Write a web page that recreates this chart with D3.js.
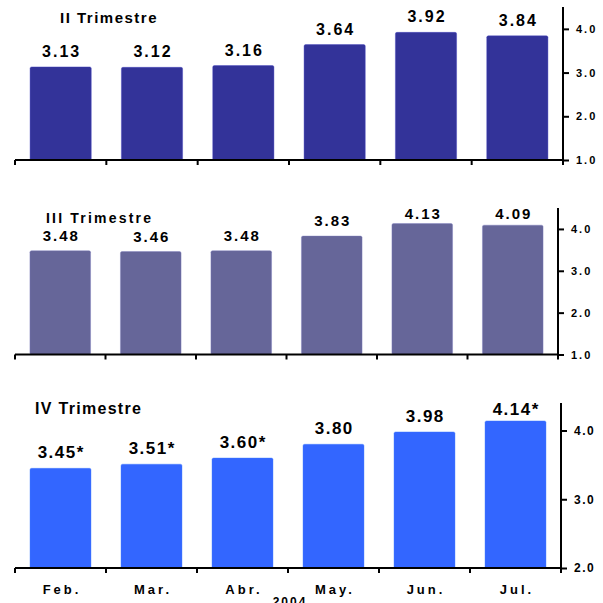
<!DOCTYPE html>
<html>
<head>
<meta charset="utf-8">
<script src="https://cdn.jsdelivr.net/npm/d3@7"></script>
<style>
  html, body { margin: 0; padding: 0; background: #fff; }
  svg { display: block; font-family: "Liberation Sans", Arial, sans-serif; font-weight: bold; }
</style>
</head>
<body>
<svg id="chart" width="603" height="603"></svg>
<script>
// ---- data ----
const months = ["Feb.", "Mar.", "Abr.", "May.", "Jun.", "Jul."];
const titles = ["II Trimestre", "III Trimestre", "IV Trimestre"];
const q2Values = [3.13, 3.12, 3.16, 3.64, 3.92, 3.84];
const q3Values = [3.48, 3.46, 3.48, 3.83, 4.13, 4.09];
const q4Values = [3.45, 3.51, 3.60, 3.80, 3.98, 4.14];
const q2Labels = ["3.13", "3.12", "3.16", "3.64", "3.92", "3.84"];
const q3Labels = ["3.48", "3.46", "3.48", "3.83", "4.13", "4.09"];
const q4Labels = ["3.45*", "3.51*", "3.60*", "3.80", "3.98", "4.14*"];
const q2Ticks = [1, 2, 3, 4];
const q3Ticks = [1, 2, 3, 4];
const q4Ticks = [2, 3, 4];
const yearLabel = "2004";

// ---- layout / style per panel ----
const panels = [
  { values: q2Values, labels: q2Labels, ticks: q2Ticks, title: titles[0], domain: [1, 4.5],
    x0: 15, x1: 563, top: 7, base: 160, color: "#333399",
    titleX: 60, titleY: 23, titleSize: 15, titleLS: 1.5,
    valSize: 16, valLS: 2, capH: 12, tickSize: 11, tickLS: 2 },
  { values: q3Values, labels: q3Labels, ticks: q3Ticks, title: titles[1], domain: [1, 4.5],
    x0: 15, x1: 558, top: 208, base: 354.5, color: "#666699",
    titleX: 46, titleY: 223, titleSize: 14, titleLS: 2.2,
    valSize: 15, valLS: 2, capH: 11, tickSize: 11, tickLS: 2 },
  { values: q4Values, labels: q4Labels, ticks: q4Ticks, title: titles[2], domain: [2, 4.4],
    x0: 15, x1: 561, top: 403, base: 568, color: "#3366FF",
    titleX: 35, titleY: 414, titleSize: 16, titleLS: 1.3,
    valSize: 17, valLS: 1.5, capH: 12, tickSize: 12, tickLS: 1.5 }
];

const svg = d3.select("#chart");

panels.forEach((p, pi) => {
  const g = svg.append("g");
  const x = d3.scaleBand().domain(months).range([p.x0, p.x1])
    .paddingInner(0.33).paddingOuter(0.165);
  const y = d3.scaleLinear().domain(p.domain).range([p.base, p.top]);

  // bars
  g.selectAll("rect.bar").data(p.values).join("rect")
    .attr("class", "bar")
    .attr("x", (d, i) => x(months[i]))
    .attr("width", x.bandwidth())
    .attr("y", d => y(d))
    .attr("height", d => y(p.domain[0]) - y(d))
    .attr("rx", 1.5)
    .attr("fill", p.color)
    .attr("stroke", d3.color(p.color).brighter(0.6))
    .attr("stroke-opacity", 0.5)
    .attr("stroke-width", 0.8);

  // value labels (kept inside plot top)
  g.selectAll("text.val").data(p.values).join("text")
    .attr("class", "val")
    .attr("x", (d, i) => x(months[i]) + x.bandwidth() / 2 + p.valLS / 2)
    .attr("y", d => Math.max(y(d) - 10, p.top + p.capH))
    .attr("text-anchor", "middle")
    .attr("font-size", p.valSize)
    .attr("letter-spacing", p.valLS)
    .attr("fill", "#000")
    .text((d, i) => p.labels[i]);

  // title
  g.append("text")
    .attr("x", p.titleX).attr("y", p.titleY)
    .attr("font-size", p.titleSize)
    .attr("letter-spacing", p.titleLS)
    .text(p.title);

  // bottom axis: baseline with ticks at category boundaries
  const bounds = months.map(m => x(m) - x.step() * x.paddingInner() / 2);
  g.append("line")
    .attr("x1", p.x0).attr("x2", p.x1)
    .attr("y1", p.base).attr("y2", p.base)
    .attr("stroke", "#000").attr("stroke-width", 2);
  g.selectAll("line.xt").data(bounds).join("line")
    .attr("class", "xt")
    .attr("x1", d => d).attr("x2", d => d)
    .attr("y1", p.base).attr("y2", p.base + 5)
    .attr("stroke", "#000").attr("stroke-width", 2);

  // right axis
  const ax = g.append("g").attr("transform", `translate(${p.x1},0)`);
  ax.append("line")
    .attr("x1", 0).attr("x2", 0)
    .attr("y1", p.top).attr("y2", p.base + 5)
    .attr("stroke", "#000").attr("stroke-width", 2);
  const yAxis = d3.axisRight(y).tickValues(p.ticks).tickSize(6).tickPadding(7)
    .tickFormat(d3.format(".1f"));
  const ag = ax.append("g").call(yAxis);
  ag.select(".domain").remove();
  ag.selectAll(".tick line").attr("stroke", "#000").attr("stroke-width", 2);
  ag.selectAll(".tick text")
    .attr("font-family", "Liberation Sans, Arial, sans-serif")
    .attr("font-weight", "bold")
    .attr("font-size", p.tickSize)
    .attr("letter-spacing", p.tickLS)
    .attr("fill", "#000");

  // month labels only under last panel
  if (pi === panels.length - 1) {
    g.selectAll("text.mon").data(months).join("text")
      .attr("class", "mon")
      .attr("x", d => x(d) + x.bandwidth() / 2 + 1.5)
      .attr("y", 594)
      .attr("text-anchor", "middle")
      .attr("font-size", 13)
      .attr("letter-spacing", 3)
      .text(d => d);
    g.append("text")
      .attr("x", (p.x0 + p.x1) / 2 + 2)
      .attr("y", 606)
      .attr("text-anchor", "middle")
      .attr("font-size", 12)
      .attr("letter-spacing", 2)
      .text(yearLabel);
  }
});
</script>
</body>
</html>
